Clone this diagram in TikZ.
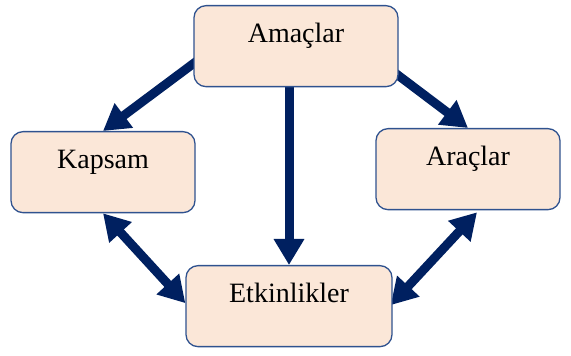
\documentclass[tikz,border=0pt]{standalone}
\usepackage{fontspec}
\setmainfont{Liberation Serif}
\usetikzlibrary{arrows.meta,calc}
\pgfdeclarelayer{background}
\pgfsetlayers{background,main}
\definecolor{boxfill}{HTML}{FBE7D8}
\definecolor{boxline}{HTML}{2F528F}
\definecolor{arrownavy}{HTML}{002060}
\tikzset{
  stagebox/.style={draw=boxline, fill=boxfill, line width=1.3pt,
    rounded corners=12pt, inner sep=0pt, anchor=north,
    text height=37pt, text depth=44pt,
    font=\fontsize{28}{32}\selectfont},
  flow/.style={draw=arrownavy, line width=9pt,
    >={Triangle[width=29pt,length=26pt]}}
}
\begin{document}
\begin{tikzpicture}[x=1pt,y=1pt]
  \useasboundingbox (0,0) rectangle (571,356);

  % stages
  \node[stagebox, minimum width=204pt] (am) at (296,351) {Amaçlar};
  \node[stagebox, minimum width=184pt] (ka) at (103,225) {Kapsam};
  \node[stagebox, minimum width=184pt] (ar) at (468,228) {Araçlar};
  \node[stagebox, minimum width=206pt] (et) at (289,91) {Etkinlikler};

  % connectors, kept behind the boxes
  \begin{pgfonlayer}{background}
    \draw[flow,->] ($(am.west)+(8,-11.5)$) -- (ka.north);
    \draw[flow,->] ($(am.east)+(-8,-23.5)$) -- (ar.north);
    \draw[flow,->] (am.south -| et.north) -- (et.north);
    \draw[flow,<->] (ka.south) -- ($(et.west)+(0,3)$);
    \draw[flow,<->] ($(ar.south)+(9,-2)$) -- ($(et.east)+(-2,1)$);
  \end{pgfonlayer}
\end{tikzpicture}
\end{document}
